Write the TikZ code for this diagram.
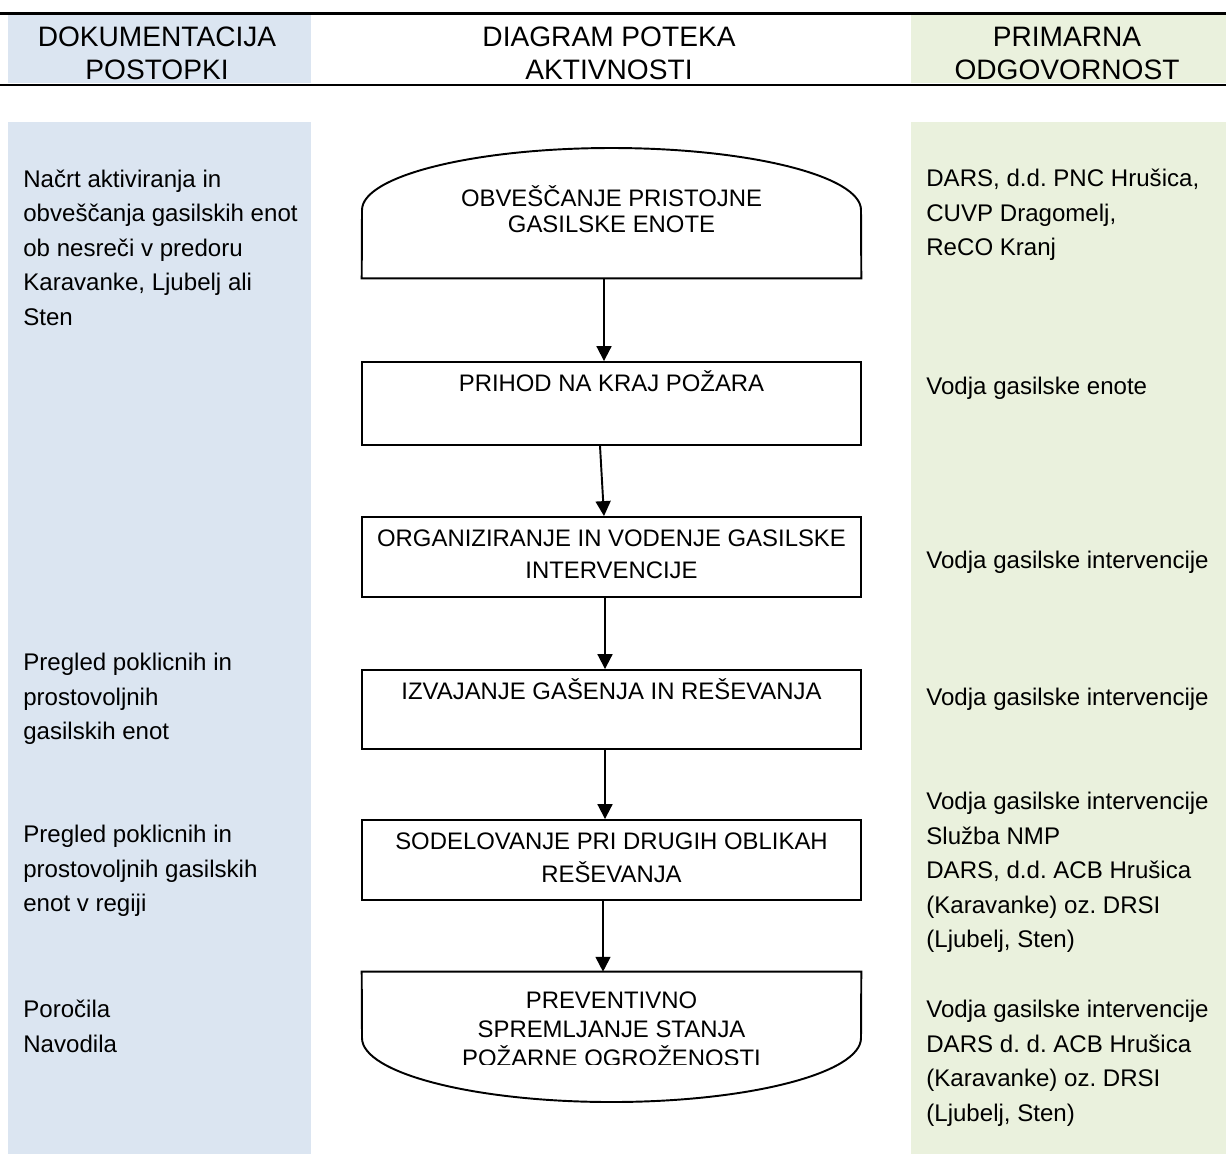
\documentclass[tikz,border=0pt]{standalone}
\usepackage{fontspec}
\setmainfont{Liberation Sans}
\usetikzlibrary{arrows.meta,positioning,calc}
\definecolor{dokblue}{RGB}{219,229,241}
\definecolor{odggreen}{RGB}{234,241,221}
\frenchspacing

\begin{document}
\begin{tikzpicture}[
  x=0.02cm, y=-0.02cm,
  box/.style={rectangle, draw, line width=1.1pt, minimum width=9.98cm, inner sep=0pt},
  frame/.style={rectangle, minimum width=9.98cm, inner sep=0pt},
  outline/.style={line width=1.1pt},
  head/.style={anchor=north, align=center, inner sep=0pt, font=\fontsize{16pt}{18.7pt}\selectfont},
  coltext/.style={anchor=north west, align=left, inner sep=0pt, font=\fontsize{13.7pt}{19.6pt}\selectfont, execute at begin node=\strut},
  boxtext/.style={anchor=north, align=center, inner sep=0pt, font=\fontsize{13.6pt}{18.7pt}\selectfont, execute at begin node=\strut},
  arrow/.style={-{Triangle[length=8.5pt,width=8.5pt]}, line width=1.1pt}
]
  \useasboundingbox (0,0) rectangle (1226,1154);
  \fill[dokblue] (8,15) rectangle (311,83);
  \fill[odggreen] (911,15) rectangle (1226,83);
  \fill[dokblue] (8,122) rectangle (311,1154);
  \fill[odggreen] (911,122) rectangle (1226,1154);
  \draw[line width=1.6pt] (0,13.5) -- (1226,13.5);
  \draw[line width=1.6pt] (0,85) -- (1226,85);

  \node[head] (dokhead) at (157,27) {DOKUMENTACIJA\\POSTOPKI};
  \node[head] (diahead) at (609,27) {DIAGRAM POTEKA\\AKTIVNOSTI};
  \node[head] (odghead) at (1067,27) {PRIMARNA\\ODGOVORNOST};

  % flow chart
  \node[frame, minimum height=2.6cm] (obv) at (611.5,213) {};
  \draw[outline] (obv.south west) -- (362,210) .. controls (362,176) and (474,148) .. (611.5,148)
    .. controls (749,148) and (861,176) .. (861,210) -- (obv.south east) -- cycle;
  \node[box, minimum height=1.66cm] (prihod) at (611.5,403.5) {};
  \node[box, minimum height=1.6cm] (organiz) at (611.5,557) {};
  \node[box, minimum height=1.58cm] (izvaj) at (611.5,709.5) {};
  \node[box, minimum height=1.6cm] (sodel) at (611.5,860) {};
  \node[frame, minimum height=2.6cm] (prevent) at (611.5,1037) {};
  \draw[outline] (prevent.north west) -- (362,1038) .. controls (362,1073) and (474,1102) .. (611.5,1102)
    .. controls (749,1102) and (861,1073) .. (861,1038) -- (prevent.north east) -- cycle;

  \node[boxtext, font=\fontsize{13.6pt}{14.74pt}\selectfont] (obvtxt) at (611.5,185) {OBVEŠČANJE PRISTOJNE\\GASILSKE ENOTE};
  \node[boxtext] (prihodtxt) at (611.5,368.5) {PRIHOD NA KRAJ POŽARA};
  \node[boxtext] (organiztxt) at (611.5,529) {ORGANIZIRANJE IN VODENJE GASILSKE\\INTERVENCIJE};
  \node[boxtext] (izvajtxt) at (611.5,676.5) {IZVAJANJE GAŠENJA IN REŠEVANJA};
  \node[boxtext] (sodeltxt) at (611.5,832.5) {SODELOVANJE PRI DRUGIH OBLIKAH\\REŠEVANJA};
  \begin{scope}
    \clip (362,972) rectangle (861,1064);
    \node[boxtext, font=\fontsize{13.6pt}{16.72pt}\selectfont] (preventtxt) at (611.5,991) {PREVENTIVNO\\SPREMLJANJE STANJA\\POŽARNE OGROŽENOSTI};
  \end{scope}

  \draw[arrow] ($(obv.south)+(-7.5,0)$) -- ($(prihod.north)+(-7.5,0)$);
  \draw[arrow] ($(prihod.south)+(-11.5,0)$) -- ($(organiz.north)+(-7.5,0)$);
  \draw[arrow] ($(organiz.south)+(-6.5,0)$) -- ($(izvaj.north)+(-6.5,0)$);
  \draw[arrow] ($(izvaj.south)+(-6.5,0)$) -- ($(sodel.north)+(-6.5,0)$);
  \draw[arrow] ($(sodel.south)+(-8.5,0)$) -- ($(prevent.north)+(-8.5,0)$);

  % documentation column
  \node[coltext] (nacrt) at (23,169.5) {Načrt aktiviranja in\\obveščanja gasilskih enot\\ob nesreči v predoru\\Karavanke, Ljubelj ali\\Sten};
  \node[coltext] (pregled) at (23,653) {Pregled poklicnih in\\prostovoljnih\\gasilskih enot};
  \node[coltext] (pregledreg) at (23,825) {Pregled poklicnih in\\prostovoljnih gasilskih\\enot v regiji};
  \node[coltext] (porocila) at (23,1000) {Poročila\\Navodila};

  % responsibility column
  \node[coltext] (dars) at (926,169) {DARS, d.d. PNC Hrušica,\\CUVP Dragomelj,\\ReCO Kranj};
  \node[coltext] (vodjaenote) at (926,370) {Vodja gasilske enote};
  \node[coltext] (vodjaorg) at (926,544) {Vodja gasilske intervencije};
  \node[coltext] (vodjaizv) at (926,681) {Vodja gasilske intervencije};
  \node[coltext] (vodjasod) at (926,792) {Vodja gasilske intervencije\\Služba NMP\\DARS, d.d. ACB Hrušica\\(Karavanke) oz. DRSI\\(Ljubelj, Sten)};
  \node[coltext] (vodjaprev) at (926,1000) {Vodja gasilske intervencije\\DARS d. d. ACB Hrušica\\(Karavanke) oz. DRSI\\(Ljubelj, Sten)};
\end{tikzpicture}
\end{document}
